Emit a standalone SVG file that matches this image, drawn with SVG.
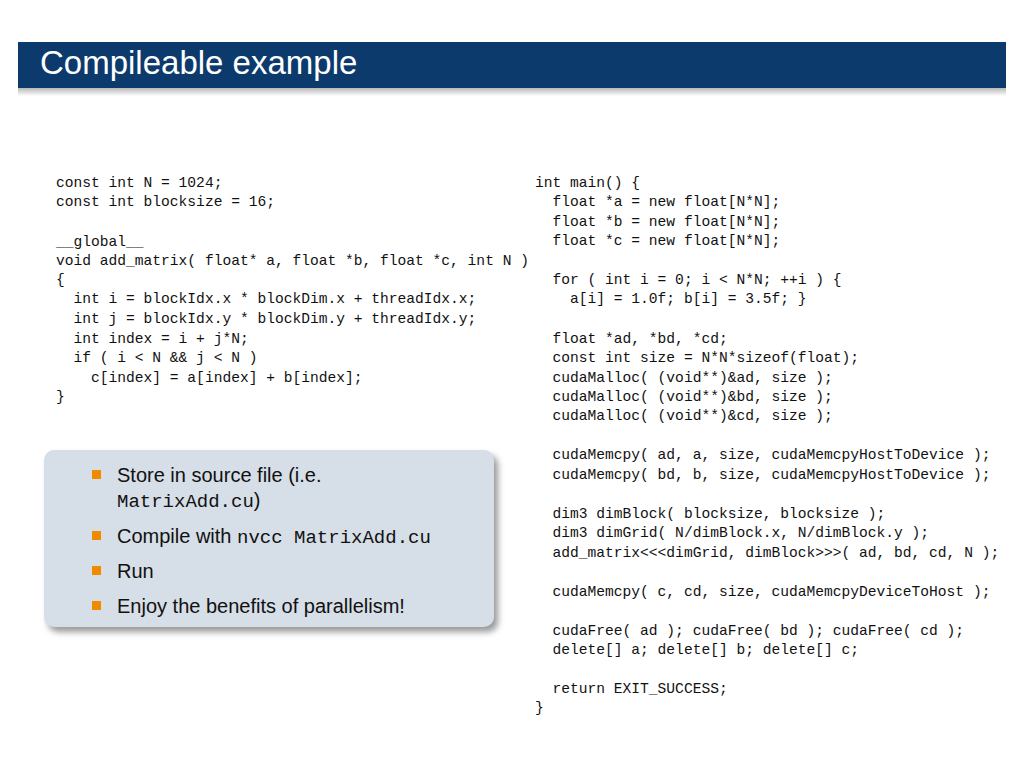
<svg xmlns="http://www.w3.org/2000/svg" width="1024" height="768" viewBox="0 0 1024 768">
<defs>
<style>
.c{font-family:"Liberation Mono","DejaVu Sans Mono",monospace;font-size:14.6px;fill:#111;white-space:pre}
.b{font-family:"Liberation Sans",Arial,sans-serif;font-size:20px;fill:#111}
.m{font-family:"Liberation Mono",monospace;font-size:19px}
</style>
<linearGradient id="sh" x1="0" y1="0" x2="0" y2="1"><stop offset="0" stop-color="#888" stop-opacity="0.6"/><stop offset="1" stop-color="#888" stop-opacity="0"/></linearGradient>
<filter id="bs" x="-10%" y="-10%" width="130%" height="130%"><feGaussianBlur stdDeviation="3"/></filter>
</defs>
<rect width="1024" height="768" fill="#fff"/>
<g id="title">
<rect x="18" y="88" width="988" height="8" fill="url(#sh)"/>
<rect x="18" y="42" width="988" height="46" fill="#0c3a6c"/>
<text x="40" y="74" font-family="'Liberation Sans',Arial,sans-serif" font-size="33" fill="#fff">Compileable example</text>
</g>
<g id="left-code" class="c">
<text class="c" x="56" y="187">const int N = 1024;</text>
<text class="c" x="56" y="206">const int blocksize = 16;</text>
<text class="c" x="56" y="246">__global__</text>
<text class="c" x="56" y="265">void add_matrix( float* a, float *b, float *c, int N )</text>
<text class="c" x="56" y="284">{</text>
<text class="c" x="56" y="303">  int i = blockIdx.x * blockDim.x + threadIdx.x;</text>
<text class="c" x="56" y="323">  int j = blockIdx.y * blockDim.y + threadIdx.y;</text>
<text class="c" x="56" y="343">  int index = i + j*N;</text>
<text class="c" x="56" y="362">  if ( i &lt; N &amp;&amp; j &lt; N )</text>
<text class="c" x="56" y="382">    c[index] = a[index] + b[index];</text>
<text class="c" x="56" y="401">}</text>
</g>
<g id="right-code">
<text class="c" x="535" y="187">int main() {</text>
<text class="c" x="535" y="206">  float *a = new float[N*N];</text>
<text class="c" x="535" y="226">  float *b = new float[N*N];</text>
<text class="c" x="535" y="245">  float *c = new float[N*N];</text>
<text class="c" x="535" y="284">  for ( int i = 0; i &lt; N*N; ++i ) {</text>
<text class="c" x="535" y="303">    a[i] = 1.0f; b[i] = 3.5f; }</text>
<text class="c" x="535" y="343">  float *ad, *bd, *cd;</text>
<text class="c" x="535" y="362">  const int size = N*N*sizeof(float);</text>
<text class="c" x="535" y="382">  cudaMalloc( (void**)&amp;ad, size );</text>
<text class="c" x="535" y="401">  cudaMalloc( (void**)&amp;bd, size );</text>
<text class="c" x="535" y="420">  cudaMalloc( (void**)&amp;cd, size );</text>
<text class="c" x="535" y="459">  cudaMemcpy( ad, a, size, cudaMemcpyHostToDevice );</text>
<text class="c" x="535" y="479">  cudaMemcpy( bd, b, size, cudaMemcpyHostToDevice );</text>
<text class="c" x="535" y="518">  dim3 dimBlock( blocksize, blocksize );</text>
<text class="c" x="535" y="537">  dim3 dimGrid( N/dimBlock.x, N/dimBlock.y );</text>
<text class="c" x="535" y="557">  add_matrix&lt;&lt;&lt;dimGrid, dimBlock&gt;&gt;&gt;( ad, bd, cd, N );</text>
<text class="c" x="535" y="596">  cudaMemcpy( c, cd, size, cudaMemcpyDeviceToHost );</text>
<text class="c" x="535" y="635">  cudaFree( ad ); cudaFree( bd ); cudaFree( cd );</text>
<text class="c" x="535" y="654">  delete[] a; delete[] b; delete[] c;</text>
<text class="c" x="535" y="693">  return EXIT_SUCCESS;</text>
<text class="c" x="535" y="712">}</text>
</g>
<g id="box">
<rect x="48" y="455" width="450" height="177" rx="10" fill="#999" filter="url(#bs)"/>
<rect x="44" y="450" width="450" height="177" rx="10" fill="#d6dee7"/>
<g fill="#f08a00">
<rect x="92" y="470" width="9" height="9"/>
<rect x="92" y="531" width="9" height="9"/>
<rect x="92" y="566" width="9" height="9"/>
<rect x="92" y="601" width="9" height="9"/>
</g>
<text class="b" x="117" y="482">Store in source file (i.e.</text>
<text class="b" x="117" y="507"><tspan class="m">MatrixAdd.cu</tspan>)</text>
<text class="b" x="117" y="543">Compile with <tspan class="m">nvcc MatrixAdd.cu</tspan></text>
<text class="b" x="117" y="578">Run</text>
<text class="b" x="117" y="613">Enjoy the benefits of parallelism!</text>
</g>
</svg>
